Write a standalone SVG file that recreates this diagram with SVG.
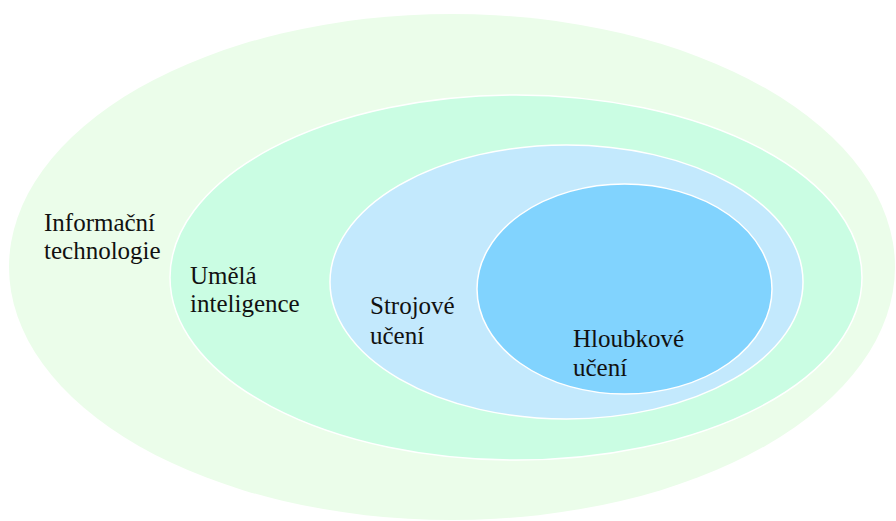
<svg xmlns="http://www.w3.org/2000/svg" width="896" height="521" viewBox="0 0 896 521">
<style>
.ring{stroke:#ffffff;stroke-width:1.5}
</style>
<rect x="0" y="0" width="896" height="521" fill="#ffffff"/>
<g font-family="Liberation Serif, Times New Roman, serif" font-size="25" fill="#111111">
<g id="informacni-technologie">
<ellipse cx="452" cy="267" rx="443" ry="253" fill="#ebfdea"/>
<text x="44" y="231">Informační</text>
<text x="44" y="259">technologie</text>
</g>
<g id="umela-inteligence">
<ellipse class="ring" cx="516" cy="277.5" rx="346" ry="182.5" fill="#cafde3"/>
<text x="190" y="284">Umělá</text>
<text x="190" y="312">inteligence</text>
</g>
<g id="strojove-uceni">
<ellipse class="ring" cx="566.5" cy="282" rx="236.5" ry="137" fill="#c3e9fd"/>
<text x="370" y="314">Strojové</text>
<text x="370" y="344">učení</text>
</g>
<g id="hloubkove-uceni">
<ellipse class="ring" cx="624.5" cy="289" rx="147.5" ry="105" fill="#81d3fe"/>
<text x="573" y="347">Hloubkové</text>
<text x="573" y="376">učení</text>
</g>
</g>
<g id="connectors"/>
</svg>
